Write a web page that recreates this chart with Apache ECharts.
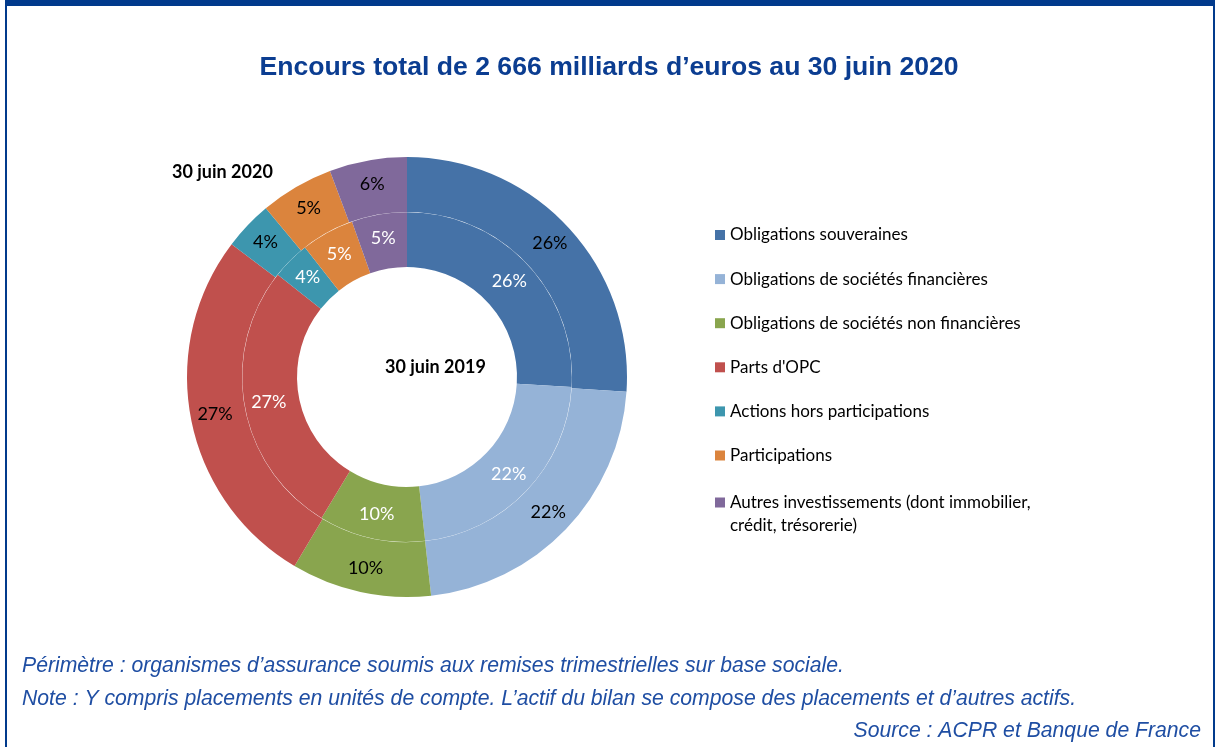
<!DOCTYPE html>
<html>
<head>
<meta charset="utf-8">
<script src="https://cdn.jsdelivr.net/npm/echarts@6/dist/echarts.min.js"></script>
<style>
html,body{margin:0;padding:0;background:#fff;}
#frame{position:absolute;left:5px;top:0;width:1210px;height:760px;box-sizing:border-box;border-top:6px solid #013A8C;border-left:2px solid #013A8C;border-right:2px solid #013A8C;}
#chart{position:absolute;left:0;top:0;width:1218px;height:747px;}
</style>
</head>
<body>
<div id="frame"></div>
<div id="chart"></div>
<script>
const categories = [
  "Obligations souveraines",
  "Obligations de sociétés financières",
  "Obligations de sociétés non financières",
  "Parts d'OPC",
  "Actions hors participations",
  "Participations",
  "Autres investissements (dont immobilier, crédit, trésorerie)"
];
const colors = ["#4572A7", "#95B3D7", "#89A54E", "#C0504D", "#3D96AE", "#DB843D", "#80699B"];
const values2019 = [25.9, 22.2, 10.4, 26.9, 3.7, 5.2, 5.4];
const values2020 = [26.1, 22.2, 10.3, 26.8, 3.6, 5.4, 5.7];
const titleText = "Encours total de 2 666 milliards d\u2019euros au 30 juin 2020";
const label2019 = "30 juin 2019";
const label2020 = "30 juin 2020";
const footLines = [
  "Périmètre : organismes d\u2019assurance soumis aux remises trimestrielles sur base sociale.",
  "Note : Y compris placements en unités de compte. L\u2019actif du bilan se compose des placements et d\u2019autres actifs."
];
const sourceText = "Source : ACPR et Banque de France";

const labelFont = "Lato, 'Open Sans', sans-serif";
const footFont = "italic 21.2px 'Liberation Sans', Arial, sans-serif";
const chart = echarts.init(document.getElementById('chart'), null, {renderer: 'canvas'});
function mk(vals){ return vals.map((v,i)=>({name: categories[i], value: v, itemStyle:{color: colors[i]}})); }
const pctFmt = p => Math.round(p.percent) + '%';
const legendCommon = {
  orient: 'vertical', left: 715, padding: 0,
  icon: 'rect', itemWidth: 10, itemHeight: 10, itemGap: 22.1,
  textStyle: {fontFamily: labelFont, fontSize: 17, color: '#000', lineHeight: 22}
};

chart.setOption({
  animation: false,
  title: {
    text: titleText, left: 'center', top: 49,
    textStyle: {fontFamily: "'Liberation Sans', Arial, sans-serif", fontWeight: 'bold', fontSize: 26.6, color: '#0B3D91'}
  },
  legend: [
    Object.assign({}, legendCommon, {top: 224, data: categories.slice(0, 6)}),
    Object.assign({}, legendCommon, {
      top: 468, data: categories.slice(6),
      textStyle: Object.assign({}, legendCommon.textStyle, {lineHeight: 23}),
      formatter: n => '\n' + n.replace('immobilier, ', 'immobilier,\n')
    })
  ],
  graphic: [
    {type: 'text', left: 172, top: 163, style: {text: label2020, font: "bold 18px " + labelFont, fill: '#000'}},
    {type: 'text', left: 385, top: 358, style: {text: label2019, font: "bold 18px " + labelFont, fill: '#000'}},
    {type: 'text', left: 22, top: 656, style: {text: footLines[0], font: footFont, fill: '#1F4EA3'}},
    {type: 'text', left: 22, top: 689, style: {text: footLines[1], font: footFont, fill: '#1F4EA3'}},
    {type: 'text', right: 17, top: 721, style: {text: sourceText, font: footFont, fill: '#1F4EA3'}}
  ],
  series: [
    {
      name: '2019', type: 'pie', center: [407, 377], radius: [110, 164.8],
      startAngle: 90, clockwise: true, avoidLabelOverlap: false,
      label: {position: 'inside', formatter: pctFmt, color: '#fff', fontFamily: labelFont, fontSize: 18},
      labelLine: {show: false}, emphasis: {disabled: true},
      data: mk(values2019)
    },
    {
      name: '2020', type: 'pie', center: [407, 377], radius: [165.1, 220],
      startAngle: 90, clockwise: true, avoidLabelOverlap: false,
      label: {position: 'inside', formatter: pctFmt, color: '#000', fontFamily: labelFont, fontSize: 18},
      labelLine: {show: false}, emphasis: {disabled: true},
      data: mk(values2020)
    }
  ]
});
</script>
</body>
</html>
